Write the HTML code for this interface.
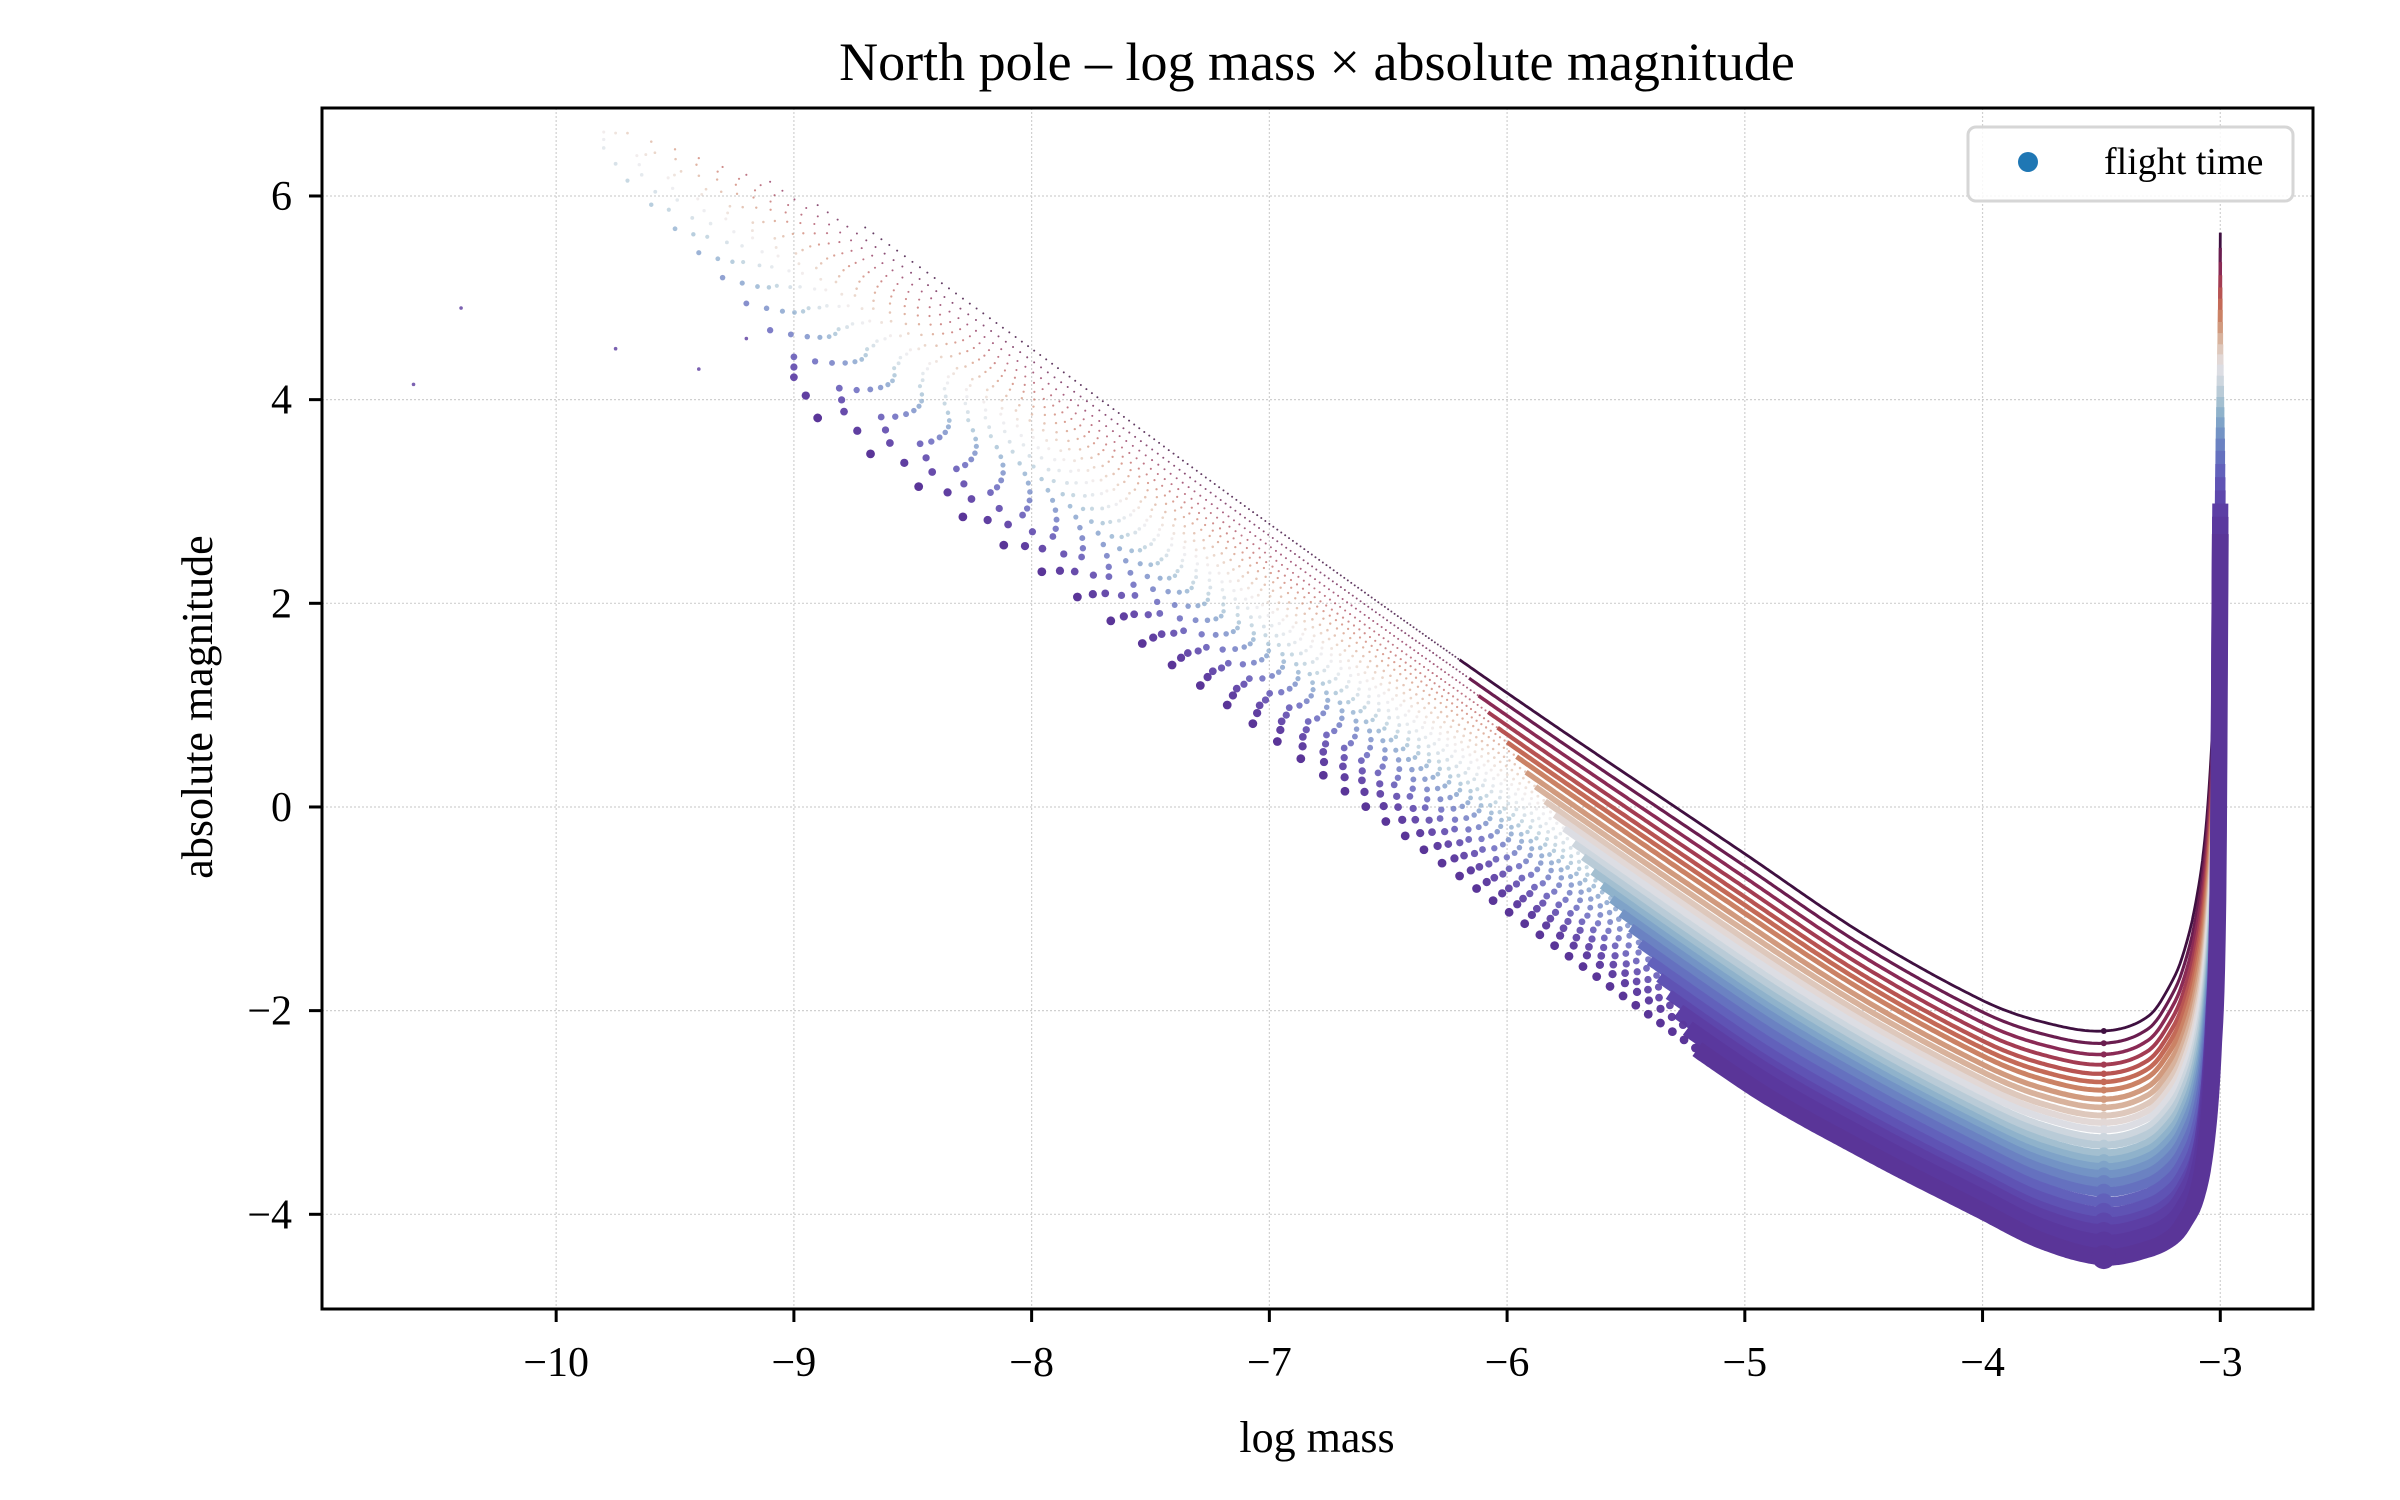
<!DOCTYPE html>
<html><head><meta charset="utf-8">
<style>
html,body{margin:0;padding:0;background:#fff;}
svg{display:block;font-family:"Liberation Serif",serif;}
</style></head>
<body>
<svg id="chart" width="2400" height="1500" viewBox="0 0 2400 1500" xmlns="http://www.w3.org/2000/svg">
<rect x="0" y="0" width="2400" height="1500" fill="#fff"/>
<text x="1317" y="80" font-size="54" text-anchor="middle">North pole – log mass × absolute magnitude</text>
<g id="grid"></g>
<g id="plot"></g>
<rect x="322" y="108" width="1991" height="1201" fill="none" stroke="#000" stroke-width="3"/>
<g id="xticks"></g>
<g id="yticks"></g>
<text x="1317" y="1452" font-size="44" text-anchor="middle">log mass</text>
<text x="0" y="0" font-size="44" text-anchor="middle" transform="translate(212,707) rotate(-90)">absolute magnitude</text>
<g>
<rect x="1968" y="127" width="325" height="74" rx="8" fill="#fff" fill-opacity="0.85" stroke="#d6d6d6" stroke-width="3"/>
<circle cx="2028" cy="162" r="10" fill="#1f77b4"/>
<text x="2104" y="174" font-size="38">flight time</text>
</g>
</svg>
<script>
// ---- data ----
const xTicks = [-10, -9, -8, -7, -6, -5, -4, -3];
const yTicks = [-4, -2, 0, 2, 4, 6];
// base curve shape: log mass grid and magnitude above each curve's minimum
const shapeX    = [-10, -9, -8, -7, -6, -5, -4.5, -4, -3.75, -3.49, -3.3, -3.2, -3.15, -3.1, -3.06, -3.03, -3.01, -3.0];
const shapeTopG = [10.1, 8.4, 6.7, 4.98, 3.32, 1.74, 0.95, 0.3, 0.09, 0, 0.15, 0.5, 0.8, 1.3, 2.0, 3.1, 4.4, 7.84];
const shapeBotG = [10.0, 8.4, 6.8, 5.12, 3.4, 1.72, 1.05, 0.45, 0.16, 0, 0.08, 0.2, 0.35, 0.6, 1.1, 2.0, 3.5, 7.1];
// minimum magnitude per curve (top to bottom) and its log mass
const curveMin = [-2.2,-2.32,-2.43,-2.53,-2.62,-2.7,-2.78,-2.87,-2.95,-3.03,-3.1,-3.17,-3.25,-3.32,-3.4,-3.47,-3.54,-3.61,-3.69,-3.78,-3.88,-3.98,-4.08,-4.18,-4.28,-4.42];
const minX = -3.49;
const curveStart = [-8.7,-8.9,-9.1,-9.2,-9.3,-9.4,-9.5,-9.6,-9.7,-9.75,-9.8,-9.8,-9.8,-9.75,-9.7,-9.6,-9.5,-9.4,-9.3,-9.2,-9.1,-9.0,-9.0,-9.0,-8.95,-8.9];
const curveColor = ["#3f1040","#6a1d4f","#8a2a55","#a33c52","#b85452","#c46a57","#cb8265","#d19a7e","#d8b29c","#dec8bc","#e2d8d6","#dcdde3","#cdd6de","#b9cbd7","#a3bfd0","#8fb2cb","#7fa3c8","#7393c5","#6b82c2","#6571bf","#6261bb","#5f53b4","#5d47ac","#5c3ea4","#5a389e","#5a3598"];
const strayX = [-10.6, -10.4, -9.75, -9.4, -9.2];
const strayY = [4.15, 4.9, 4.5, 4.3, 4.6];

// ---- axes ----
const X0=322, X1=2313, Y0=108, Y1=1309;
const xMin=-10.985, xMax=-2.61, yMin=-4.93, yMax=6.864;
const sx = v => X0 + (v - xMin) / (xMax - xMin) * (X1 - X0);
const sy = v => Y1 - (v - yMin) / (yMax - yMin) * (Y1 - Y0);
const NS="http://www.w3.org/2000/svg";
function mk(tag, attrs, parent){const e=document.createElementNS(NS,tag);for(const k in attrs)e.setAttribute(k,attrs[k]);parent.appendChild(e);return e;}

const grid=document.getElementById('grid'), xt=document.getElementById('xticks'), yt=document.getElementById('yticks'), plot=document.getElementById('plot');
xTicks.forEach(t=>{
  const g=mk('line',{x1:sx(t),x2:sx(t),y1:Y0,y2:Y1,stroke:'#d0d0d0','stroke-width':1.2,'stroke-dasharray':'2,2'},grid);
  
  
  const tk=mk('line',{x1:sx(t),x2:sx(t),y1:Y1,y2:Y1+13,stroke:'#000','stroke-width':3},xt);
  
  
  const lb=mk('text',{x:sx(t),y:1376,'font-size':42,'text-anchor':'middle'},xt);
  lb.textContent='\u2212'+Math.abs(t);
  
  
});
yTicks.forEach(t=>{
  const g=mk('line',{x1:X0,x2:X1,y1:sy(t),y2:sy(t),stroke:'#d0d0d0','stroke-width':1.2,'stroke-dasharray':'2,2'},grid);
  
  
  const tk=mk('line',{x1:X0-13,x2:X0,y1:sy(t),y2:sy(t),stroke:'#000','stroke-width':3},yt);
  
  
  const lb=mk('text',{x:292,y:sy(t)+14,'font-size':42,'text-anchor':'end'},yt);
  lb.textContent=(t<0?'\u2212':'')+Math.abs(t);
  
  
});

// ---- series ----
function interp(arr, x){
  const m=shapeX.length;
  if(x<=shapeX[0]) return arr[0];
  if(x>=shapeX[m-1]) return arr[m-1];
  let k=1; while(x>shapeX[k]) k++;
  const i0=Math.max(k-2,0), i1=k-1, i2=k, i3=Math.min(k+1,m-1);
  const h=shapeX[i2]-shapeX[i1], t=(x-shapeX[i1])/h;
  const m1=(arr[i2]-arr[i0])/(shapeX[i2]-shapeX[i0])*h;
  const m2=(arr[i3]-arr[i1])/(shapeX[i3]-shapeX[i1])*h;
  const t2=t*t, t3=t2*t;
  let v=(2*t3-3*t2+1)*arr[i1]+(t3-2*t2+t)*m1+(-2*t3+3*t2)*arr[i2]+(t3-t2)*m2;
  const lo=Math.min(arr[i1],arr[i2]), hi=Math.max(arr[i1],arr[i2]);
  return Math.max(lo-0.02,Math.min(hi+0.02,v));
}
const n=curveMin.length;
function magAt(i,x){
  const f=i/(n-1);
  return curveMin[i] + (1-f)*interp(shapeTopG,x) + f*interp(shapeBotG,x);
}
for(let i=0;i<n;i++){
  const f=i/(n-1);
  const col=curveColor[i];
  const g=mk('g',{},plot);
  
  
  const lineStart = -6.2 + 1.0*f;
  let d='';
  const xs=[];
  for(let xx=lineStart; xx<-3.12; xx+=0.01) xs.push(xx);
  for(let xx=-3.12; xx<=-3.0001; xx+=0.0025) xs.push(xx);
  xs.push(-3.0);
  xs.forEach((xx,k)=>{d+=(k?'L':'M')+sx(xx).toFixed(1)+','+sy(magAt(i,xx)).toFixed(1);});
  const w = 2.8+9*f + (f>0.9 ? 5 : 0);
  const p=mk('path',{d:d,fill:'none',stroke:col,'stroke-width':w,'stroke-linejoin':'round','stroke-linecap':'butt'},g);
  
  
  let x=curveStart[i];
  while(x<lineStart){
    const c=mk('circle',{cx:sx(x),cy:sy(magAt(i,x)),r:1.0+3.4*f*f,fill:col,'fill-opacity':0.45+0.55*Math.abs(f-0.4)/0.6},g);
    
    
    x += (0.012+0.035*f)*Math.exp((lineStart-x)*0.42);
  }
  const m=mk('circle',{cx:sx(minX),cy:sy(curveMin[i]),r:3+9*f*f,fill:col},g);
  
  
}
strayX.forEach((v,k)=>{
  const c=mk('circle',{cx:sx(v),cy:sy(strayY[k]),r:1.8,fill:'#5a3a9e','fill-opacity':0.8},plot);
  
  
});
</script>
</body></html>
